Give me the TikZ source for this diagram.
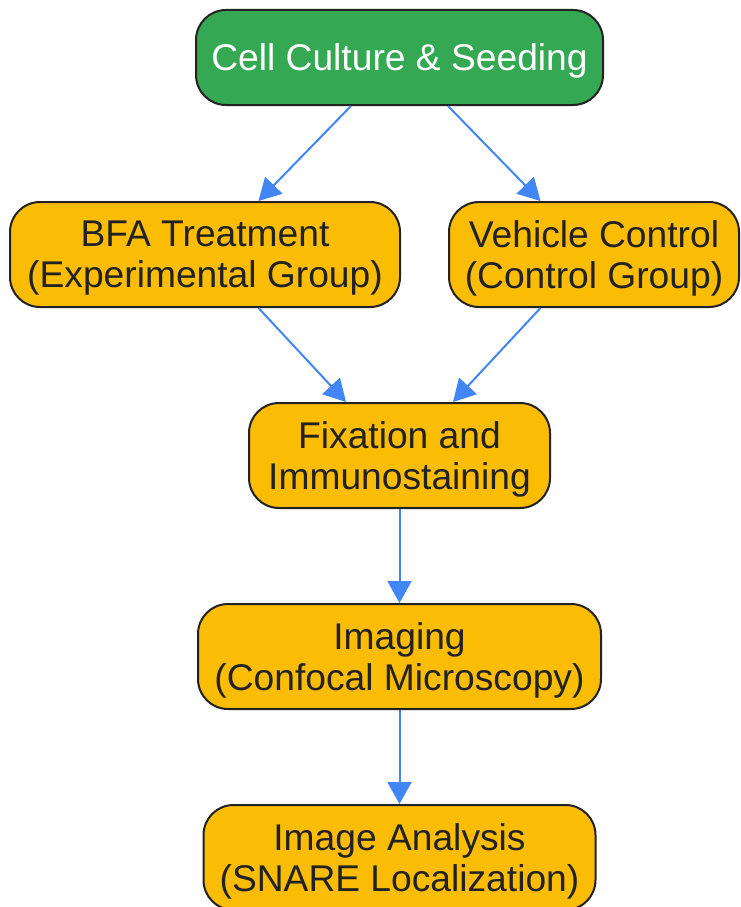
\documentclass[tikz,border=0pt]{standalone}
\usepackage{fontspec}
\setmainfont{Liberation Sans}
\usetikzlibrary{positioning,arrows.meta}
\definecolor{stepgreen}{HTML}{34A853}
\definecolor{stepyellow}{HTML}{FBBC04}
\definecolor{edgeblue}{HTML}{4285F4}
\definecolor{inkgray}{HTML}{222222}
\tikzset{
	stage/.style={draw=inkgray, line width=2pt, rounded corners=30pt, align=center,
		fill=stepyellow, text=inkgray, inner sep=0pt, text depth=-5pt,
		font=\fontsize{37.2}{41}\selectfont},
	startstage/.style={stage, fill=stepgreen, text=white},
	flow/.style={-{Triangle[length=22pt, width=24pt]}, draw=edgeblue, line width=2pt}
}

\begin{document}
\begin{tikzpicture}[x=1pt, y=-1pt]
	\useasboundingbox (0, 0) rectangle (741, 907);

	\node[startstage, minimum width=407pt, minimum height=95pt] (culture) at (399.5, 57.5) {Cell Culture \& Seeding};
	\node[stage, minimum width=390pt, minimum height=105pt] (bfa) at (205, 254.5) {BFA Treatment\\(Experimental Group)};
	\node[stage, minimum width=290pt, minimum height=105pt] (vehicle) at (594, 254.5) {Vehicle Control\\(Control Group)};
	\node[stage, minimum width=301pt, minimum height=105pt] (fixation) at (399.5, 455.5) {Fixation and\\Immunostaining};
	\node[stage, minimum width=403pt, minimum height=105pt] (imaging) at (399.5, 656.5) {Imaging\\(Confocal Microscopy)};
	\node[stage, minimum width=392pt, minimum height=105pt] (analysis) at (399.5, 857.5) {Image Analysis\\(SNARE Localization)};

	\draw[flow] (culture.-135) -- (bfa.45);
	\draw[flow] (culture.-45) -- (vehicle.135);
	\draw[flow] (bfa.-45) -- (fixation.135);
	\draw[flow] (vehicle.-135) -- (fixation.45);
	\draw[flow] (fixation) -- (imaging);
	\draw[flow] (imaging) -- (analysis);
\end{tikzpicture}
\end{document}
